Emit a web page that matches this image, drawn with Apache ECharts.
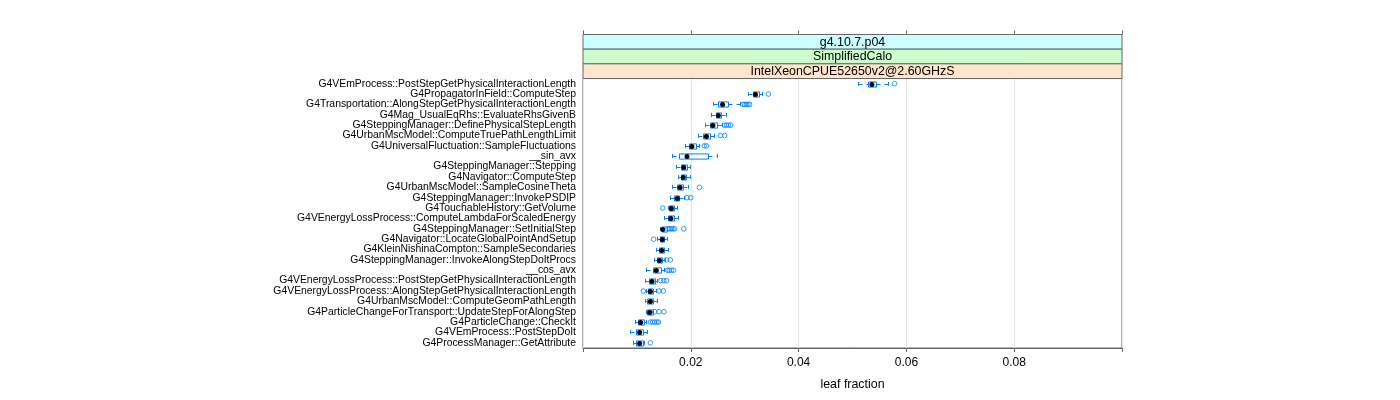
<!DOCTYPE html>
<html>
<head>
<meta charset="utf-8">
<script src="https://cdn.jsdelivr.net/npm/echarts@6/dist/echarts.min.js"></script>
<style>html,body{margin:0;padding:0;background:#fff}#chart{width:1400px;height:400px}</style>
</head>
<body>
<div id="chart"></div>
<script>
const categories = [
  "G4VEmProcess::PostStepGetPhysicalInteractionLength",
  "G4PropagatorInField::ComputeStep",
  "G4Transportation::AlongStepGetPhysicalInteractionLength",
  "G4Mag_UsualEqRhs::EvaluateRhsGivenB",
  "G4SteppingManager::DefinePhysicalStepLength",
  "G4UrbanMscModel::ComputeTruePathLengthLimit",
  "G4UniversalFluctuation::SampleFluctuations",
  "__sin_avx",
  "G4SteppingManager::Stepping",
  "G4Navigator::ComputeStep",
  "G4UrbanMscModel::SampleCosineTheta",
  "G4SteppingManager::InvokePSDIP",
  "G4TouchableHistory::GetVolume",
  "G4VEnergyLossProcess::ComputeLambdaForScaledEnergy",
  "G4SteppingManager::SetInitialStep",
  "G4Navigator::LocateGlobalPointAndSetup",
  "G4KleinNishinaCompton::SampleSecondaries",
  "G4SteppingManager::InvokeAlongStepDoItProcs",
  "__cos_avx",
  "G4VEnergyLossProcess::PostStepGetPhysicalInteractionLength",
  "G4VEnergyLossProcess::AlongStepGetPhysicalInteractionLength",
  "G4UrbanMscModel::ComputeGeomPathLength",
  "G4ParticleChangeForTransport::UpdateStepForAlongStep",
  "G4ParticleChange::CheckIt",
  "G4VEmProcess::PostStepDoIt",
  "G4ProcessManager::GetAttribute"
];
const lowerWhisker = [0.0511,0.0306,0.0241,0.0238,0.0226,0.0213,0.0190,0.0166,0.0173,0.0176,0.0166,0.0162,0.0157,0.0150,0.0142,0.0138,0.0136,0.0132,0.0117,0.0115,0.0117,0.0115,0.0117,0.0096,0.0088,0.0093];
const lowerQuartile = [0.0529,0.0315,0.0251,0.0247,0.0235,0.0223,0.0196,0.0179,0.0181,0.0181,0.0175,0.0169,0.0159,0.0158,0.0146,0.0143,0.0141,0.0138,0.0129,0.0122,0.0121,0.0119,0.0119,0.0102,0.0099,0.0099];
const medians = [0.0536,0.0320,0.0259,0.0251,0.0241,0.0229,0.0202,0.0193,0.0187,0.0186,0.0180,0.0175,0.0164,0.0163,0.0148,0.0147,0.0146,0.0142,0.0136,0.0128,0.0125,0.0125,0.0124,0.0107,0.0105,0.0105];
const upperQuartile = [0.0544,0.0326,0.0269,0.0256,0.0249,0.0235,0.0209,0.0232,0.0193,0.0191,0.0185,0.0179,0.0169,0.0168,0.0155,0.0150,0.0150,0.0147,0.0144,0.0133,0.0130,0.0129,0.0129,0.0113,0.0111,0.0111];
const upperWhisker = [0.0566,0.0332,0.0291,0.0266,0.0258,0.0243,0.0215,0.0248,0.0199,0.0198,0.0194,0.0187,0.0174,0.0176,0.0156,0.0155,0.0157,0.0152,0.0150,0.0138,0.0135,0.0138,0.0130,0.0116,0.0119,0.0114];
const outliers = [
  [0.0578],[0.0344],[0.0297,0.0300,0.0303,0.0306,0.0309],[],[0.0262,0.0266,0.0270,0.0274],
  [0.0255,0.0263],[0.0225,0.0229],[],[],[],[0.0216],[0.0193,0.0200],[0.0148],[],
  [0.0158,0.0161,0.0164,0.0167,0.0170,0.0187],[0.0131],[],[0.0155,0.0162],
  [0.0157,0.0160,0.0164,0.0168],[0.0144,0.0150,0.0155],[0.0112,0.0141,0.0149],[],
  [0.0133,0.0141,0.0150],[0.0125,0.0129,0.0133,0.0137,0.0140],[],[0.0125]
];
const xTicks = [0.02, 0.04, 0.06, 0.08];
const stripLabels = ["g4.10.7.p04", "SimplifiedCalo", "IntelXeonCPUE52650v2@2.60GHzS"];
const stripColors = ["#ccffff", "#ccffcc", "#ffe5cc"];
const xTitle = "leaf fraction";

const FONT = "'Liberation Sans', Arial, Helvetica, sans-serif";
const BLUE = "#0080ff";
const FRAME = "#666666";

const boxData = categories.map((c, i) => [i, lowerWhisker[i], lowerQuartile[i], medians[i], upperQuartile[i], upperWhisker[i]]);
const outlierData = [];
outliers.forEach((arr, i) => arr.forEach(v => outlierData.push([v, i])));

const gridLeft = 583, gridRight = 1122, gridTop = 78.5, gridBottom = 348;
const stripTop = 34.5;
const stripH = (gridTop - stripTop) / stripLabels.length;

const graphics = [];
stripLabels.forEach((lab, k) => {
  const y0 = stripTop + k * stripH;
  graphics.push({
    type: 'rect', silent: true, z: 10,
    shape: { x: gridLeft, y: y0, width: gridRight - gridLeft, height: stripH },
    style: { fill: stripColors[k], stroke: FRAME, lineWidth: 1 }
  });
  graphics.push({
    type: 'text', silent: true, z: 11,
    x: (gridLeft + gridRight) / 2, y: y0 + stripH / 2 + 0.5,
    style: { text: lab, font: "12.4px " + FONT, fill: '#000', align: 'center', verticalAlign: 'middle', textAlign: 'center', textVerticalAlign: 'middle' }
  });
});

const chart = echarts.init(document.getElementById('chart'), null, { renderer: 'canvas' });
chart.setOption({
  animation: false,
  backgroundColor: '#fff',
  grid: { left: gridLeft, right: 1400 - gridRight, top: gridTop, bottom: 400 - gridBottom, show: true, borderColor: FRAME, borderWidth: 1, backgroundColor: 'transparent', containLabel: false },
  xAxis: [{
    type: 'value', position: 'bottom', min: 0, max: 0.1, interval: 0.02,
    name: xTitle, nameLocation: 'middle', nameGap: 31,
    nameTextStyle: { fontFamily: FONT, fontSize: 12.4, color: '#000' },
    axisLine: { show: true, lineStyle: { color: FRAME, width: 1 } },
    axisTick: { show: true, length: 4, lineStyle: { color: FRAME } },
    axisLabel: { margin: 9, fontFamily: FONT, fontSize: 12, color: '#000',
      formatter: v => xTicks.some(t => Math.abs(t - v) < 1e-9) ? v.toFixed(2) : '' },
    splitLine: { show: true, lineStyle: { color: '#e6e6e6', width: 1 } }
  }, {
    type: 'value', position: 'top', min: 0, max: 0.1, interval: 0.02, offset: gridTop - stripTop,
    axisLine: { show: false },
    axisTick: { show: true, length: 4, lineStyle: { color: FRAME } },
    axisLabel: { show: false },
    splitLine: { show: false }
  }],
  yAxis: {
    type: 'category', data: categories, inverse: true, boundaryGap: true,
    axisLine: { show: false }, axisTick: { show: false },
    axisLabel: { interval: 0, margin: 7, fontFamily: FONT, fontSize: 10.4, color: '#000' },
    splitLine: { show: false }
  },
  graphic: graphics,
  series: [{
    type: 'custom',
    xAxisIndex: 0, yAxisIndex: 0,
    encode: { x: [1, 2, 3, 4, 5], y: 0 },
    data: boxData,
    z: 5,
    renderItem: function (params, api) {
      const yi = api.value(0);
      const pLo = api.coord([api.value(1), yi]);
      const pQ1 = api.coord([api.value(2), yi]);
      const pMd = api.coord([api.value(3), yi]);
      const pQ3 = api.coord([api.value(4), yi]);
      const pHi = api.coord([api.value(5), yi]);
      const band = api.size([0, 1])[1];
      const h = band * 0.5;
      const y = Math.round(pLo[1]) + 0.5;
      const dash = { stroke: BLUE, lineWidth: 1, lineDash: [4, 4], fill: null };
      const solid = { stroke: BLUE, lineWidth: 1, fill: 'rgba(0,0,0,0)' };
      const r = x => Math.round(x) + 0.5;
      return {
        type: 'group',
        children: [
          { type: 'line', shape: { x1: r(pLo[0]), y1: y, x2: r(pQ1[0]), y2: y }, style: dash },
          { type: 'line', shape: { x1: r(pQ3[0]), y1: y, x2: r(pHi[0]), y2: y }, style: dash },
          { type: 'line', shape: { x1: r(pLo[0]), y1: y - h / 2, x2: r(pLo[0]), y2: y + h / 2 }, style: dash },
          { type: 'line', shape: { x1: r(pHi[0]), y1: y - h / 2, x2: r(pHi[0]), y2: y + h / 2 }, style: dash },
          { type: 'rect', shape: { x: r(pQ1[0]), y: y - h / 2, width: Math.max(1, Math.round(pQ3[0]) - Math.round(pQ1[0])), height: h }, style: solid },
          { type: 'circle', shape: { cx: pMd[0], cy: y, r: 2.5 }, style: { fill: '#000', stroke: null } }
        ]
      };
    }
  }, {
    type: 'scatter',
    xAxisIndex: 0, yAxisIndex: 0,
    data: outlierData,
    symbol: 'circle',
    symbolSize: 4.6,
    z: 4,
    itemStyle: { color: 'rgba(0,0,0,0)', borderColor: BLUE, borderWidth: 1 },
    emphasis: { disabled: true }
  }]
});
</script>
</body>
</html>
